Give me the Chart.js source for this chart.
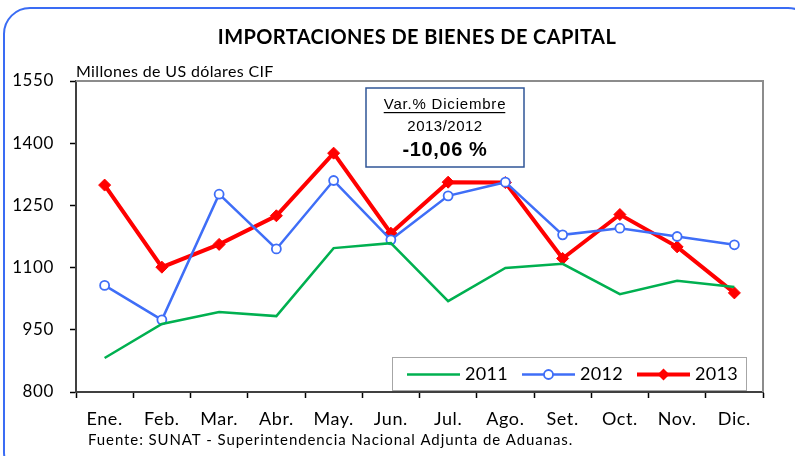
<!DOCTYPE html>
<html>
<head>
<meta charset="utf-8">
<script src="https://cdn.jsdelivr.net/npm/chart.js@4/dist/chart.umd.min.js"></script>
<style>
  html, body { margin: 0; padding: 0; background: #ffffff; }
  #wrap { width: 795px; height: 456px; position: relative; }
</style>
</head>
<body>
<div id="wrap"><canvas id="c" width="795" height="456"></canvas></div>
<script>
// Monthly imports of capital goods (millions of US$ CIF)
const months = ['Ene.', 'Feb.', 'Mar.', 'Abr.', 'May.', 'Jun.', 'Jul.', 'Ago.', 'Set.', 'Oct.', 'Nov.', 'Dic.'];
const imports2011 = [882, 964, 993, 983, 1147, 1159, 1019, 1099, 1109, 1036, 1068, 1053];
const imports2012 = [1057, 974, 1277, 1145, 1310, 1167, 1273, 1306, 1179, 1195, 1175, 1155];
const imports2013 = [1299, 1101, 1156, 1225, 1376, 1183, 1306, 1305, 1122, 1228, 1150, 1039];
const yTicks = [800, 950, 1100, 1250, 1400, 1550];

const titleText = 'IMPORTACIONES DE BIENES DE CAPITAL';
const unitText = 'Millones de US dólares CIF';
const sourceText = 'Fuente: SUNAT - Superintendencia Nacional Adjunta de Aduanas.';
const boxLines = ['Var.% Diciembre', '2013/2012', '-10,06 %'];

const FONT = 'Lato, "Open Sans", sans-serif';
const ARIAL = '"Liberation Sans", Arial, sans-serif';

// Frame, title, plot border, variation box, legend and source note
const decorations = {
  id: 'decorations',
  beforeDraw(chart) {
    const ctx = chart.ctx;
    ctx.save();
    ctx.fillStyle = '#ffffff';
    ctx.fillRect(0, 0, chart.width, chart.height);
    ctx.restore();
    // slightly wider tracking for the axis labels
    ctx.letterSpacing = '0.6px';
  },
  afterDraw(chart) {
    const ctx = chart.ctx;
    const a = chart.chartArea;
    ctx.save();

    // rounded outer frame
    ctx.strokeStyle = '#3a6cf4';
    ctx.lineWidth = 2;
    ctx.beginPath();
    ctx.roundRect(4, 8, 810, 470, 26);
    ctx.stroke();

    // plot area border (top and right)
    ctx.strokeStyle = '#8c8c8c';
    ctx.lineWidth = 2;
    ctx.beginPath();
    ctx.moveTo(a.left, a.top);
    ctx.lineTo(a.right, a.top);
    ctx.lineTo(a.right, a.bottom);
    ctx.stroke();

    // title
    ctx.fillStyle = '#000000';
    ctx.textBaseline = 'middle';
    ctx.textAlign = 'center';
    ctx.letterSpacing = '0.4px';
    ctx.font = 'bold 20px ' + FONT;
    ctx.fillText(titleText, 417, 38);

    // unit label
    ctx.textAlign = 'left';
    ctx.letterSpacing = '0.35px';
    ctx.font = '16px ' + FONT;
    ctx.fillText(unitText, 76, 72);

    // source note
    ctx.letterSpacing = '0.9px';
    ctx.font = '15px ' + FONT;
    ctx.fillText(sourceText, 88, 440);

    // variation box
    const bx = 366, by = 88, bw = 158, bh = 79;
    ctx.fillStyle = '#ffffff';
    ctx.fillRect(bx, by, bw, bh);
    ctx.strokeStyle = '#2f5597';
    ctx.lineWidth = 1.5;
    ctx.strokeRect(bx, by, bw, bh);
    ctx.fillStyle = '#000000';
    ctx.textAlign = 'left';
    const cx = 445;
    ctx.letterSpacing = '0.8px';
    ctx.font = '15px ' + ARIAL;
    const w0 = ctx.measureText(boxLines[0]).width;
    ctx.fillText(boxLines[0], cx - w0 / 2, 105);
    ctx.fillRect(cx - w0 / 2, 112, w0 - 1, 1.2);
    ctx.letterSpacing = '0.5px';
    const w1 = ctx.measureText(boxLines[1]).width;
    ctx.fillText(boxLines[1], cx - w1 / 2, 127);
    ctx.letterSpacing = '0.6px';
    ctx.font = 'bold 20px ' + ARIAL;
    const w2 = ctx.measureText(boxLines[2]).width;
    ctx.fillText(boxLines[2], cx - w2 / 2, 150);

    // legend
    const lx = 392, ly = 357, lw = 354, lh = 33;
    ctx.fillStyle = '#ffffff';
    ctx.fillRect(lx, ly, lw, lh);
    ctx.strokeStyle = '#a6a6a6';
    ctx.lineWidth = 1;
    ctx.strokeRect(lx + 0.5, ly + 0.5, lw, lh);
    const my = ly + lh / 2 + 1;
    const starts = [407, 522, 637];
    ctx.letterSpacing = '0.3px';
    chart.data.datasets.forEach((ds, i) => {
      const x0 = starts[i], x1 = x0 + 53;
      ctx.strokeStyle = ds.borderColor;
      ctx.lineWidth = ds.borderWidth;
      ctx.beginPath();
      ctx.moveTo(x0, my);
      ctx.lineTo(x1, my);
      ctx.stroke();
      const mx = (x0 + x1) / 2;
      if (ds.pointStyle === 'circle' && ds.pointRadius > 0) {
        ctx.fillStyle = ds.pointBackgroundColor;
        ctx.lineWidth = ds.pointBorderWidth;
        ctx.strokeStyle = ds.pointBorderColor;
        ctx.beginPath();
        ctx.arc(mx, my, ds.pointRadius, 0, Math.PI * 2);
        ctx.fill();
        ctx.stroke();
      } else if (ds.pointStyle === 'rectRot') {
        const r = ds.pointRadius;
        ctx.fillStyle = ds.pointBackgroundColor;
        ctx.beginPath();
        ctx.moveTo(mx, my - r);
        ctx.lineTo(mx + r, my);
        ctx.lineTo(mx, my + r);
        ctx.lineTo(mx - r, my);
        ctx.closePath();
        ctx.fill();
      }
      ctx.fillStyle = '#000000';
      ctx.textAlign = 'left';
      ctx.font = '18px ' + FONT;
      ctx.fillText(ds.label, x1 + 5, my);
    });

    ctx.restore();
    ctx.letterSpacing = '0px';
  }
};

new Chart(document.getElementById('c'), {
  type: 'line',
  data: {
    labels: months,
    datasets: [
      {
        label: '2011',
        data: imports2011,
        borderColor: '#00b050',
        backgroundColor: '#00b050',
        borderWidth: 2.5,
        pointRadius: 0,
        pointStyle: 'circle',
        tension: 0
      },
      {
        label: '2012',
        data: imports2012,
        borderColor: '#3f6ef7',
        backgroundColor: '#3f6ef7',
        borderWidth: 2.5,
        pointStyle: 'circle',
        pointRadius: 4.5,
        pointBorderWidth: 1.8,
        pointBorderColor: '#3f6ef7',
        pointBackgroundColor: '#ffffff',
        tension: 0
      },
      {
        label: '2013',
        data: imports2013,
        borderColor: '#ff0000',
        backgroundColor: '#ff0000',
        borderWidth: 4,
        pointStyle: 'rectRot',
        pointRadius: 6,
        pointBorderWidth: 1,
        pointBorderColor: '#ff0000',
        pointBackgroundColor: '#ff0000',
        tension: 0
      }
    ]
  },
  options: {
    responsive: false,
    animation: false,
    devicePixelRatio: 1,
    layout: { padding: { left: 0, right: 32, top: 81, bottom: 0 } },
    plugins: {
      legend: { display: false },
      title: { display: false },
      tooltip: { enabled: false }
    },
    scales: {
      x: {
        offset: true,
        afterFit(scale) { scale.height = 64; },
        grid: {
          offset: true,
          drawOnChartArea: false,
          drawTicks: true,
          tickLength: 6,
          tickWidth: 1.5,
          tickColor: '#000000'
        },
        border: { display: true, color: '#404040', width: 2 },
        ticks: {
          color: '#000000',
          font: { family: FONT, size: 18 },
          padding: 10,
          maxRotation: 0,
          autoSkip: false
        }
      },
      y: {
        min: 800,
        max: 1550,
        afterFit(scale) { scale.width = 76; },
        afterBuildTicks(scale) { scale.ticks = yTicks.map(v => ({ value: v })); },
        grid: {
          drawOnChartArea: false,
          drawTicks: true,
          tickLength: 6,
          tickWidth: 1.5,
          tickColor: '#000000'
        },
        border: { display: true, color: '#404040', width: 2 },
        ticks: {
          color: '#000000',
          font: { family: FONT, size: 17 },
          padding: 16,
          callback: v => String(v)
        }
      }
    }
  },
  plugins: [decorations]
});
</script>
</body>
</html>
